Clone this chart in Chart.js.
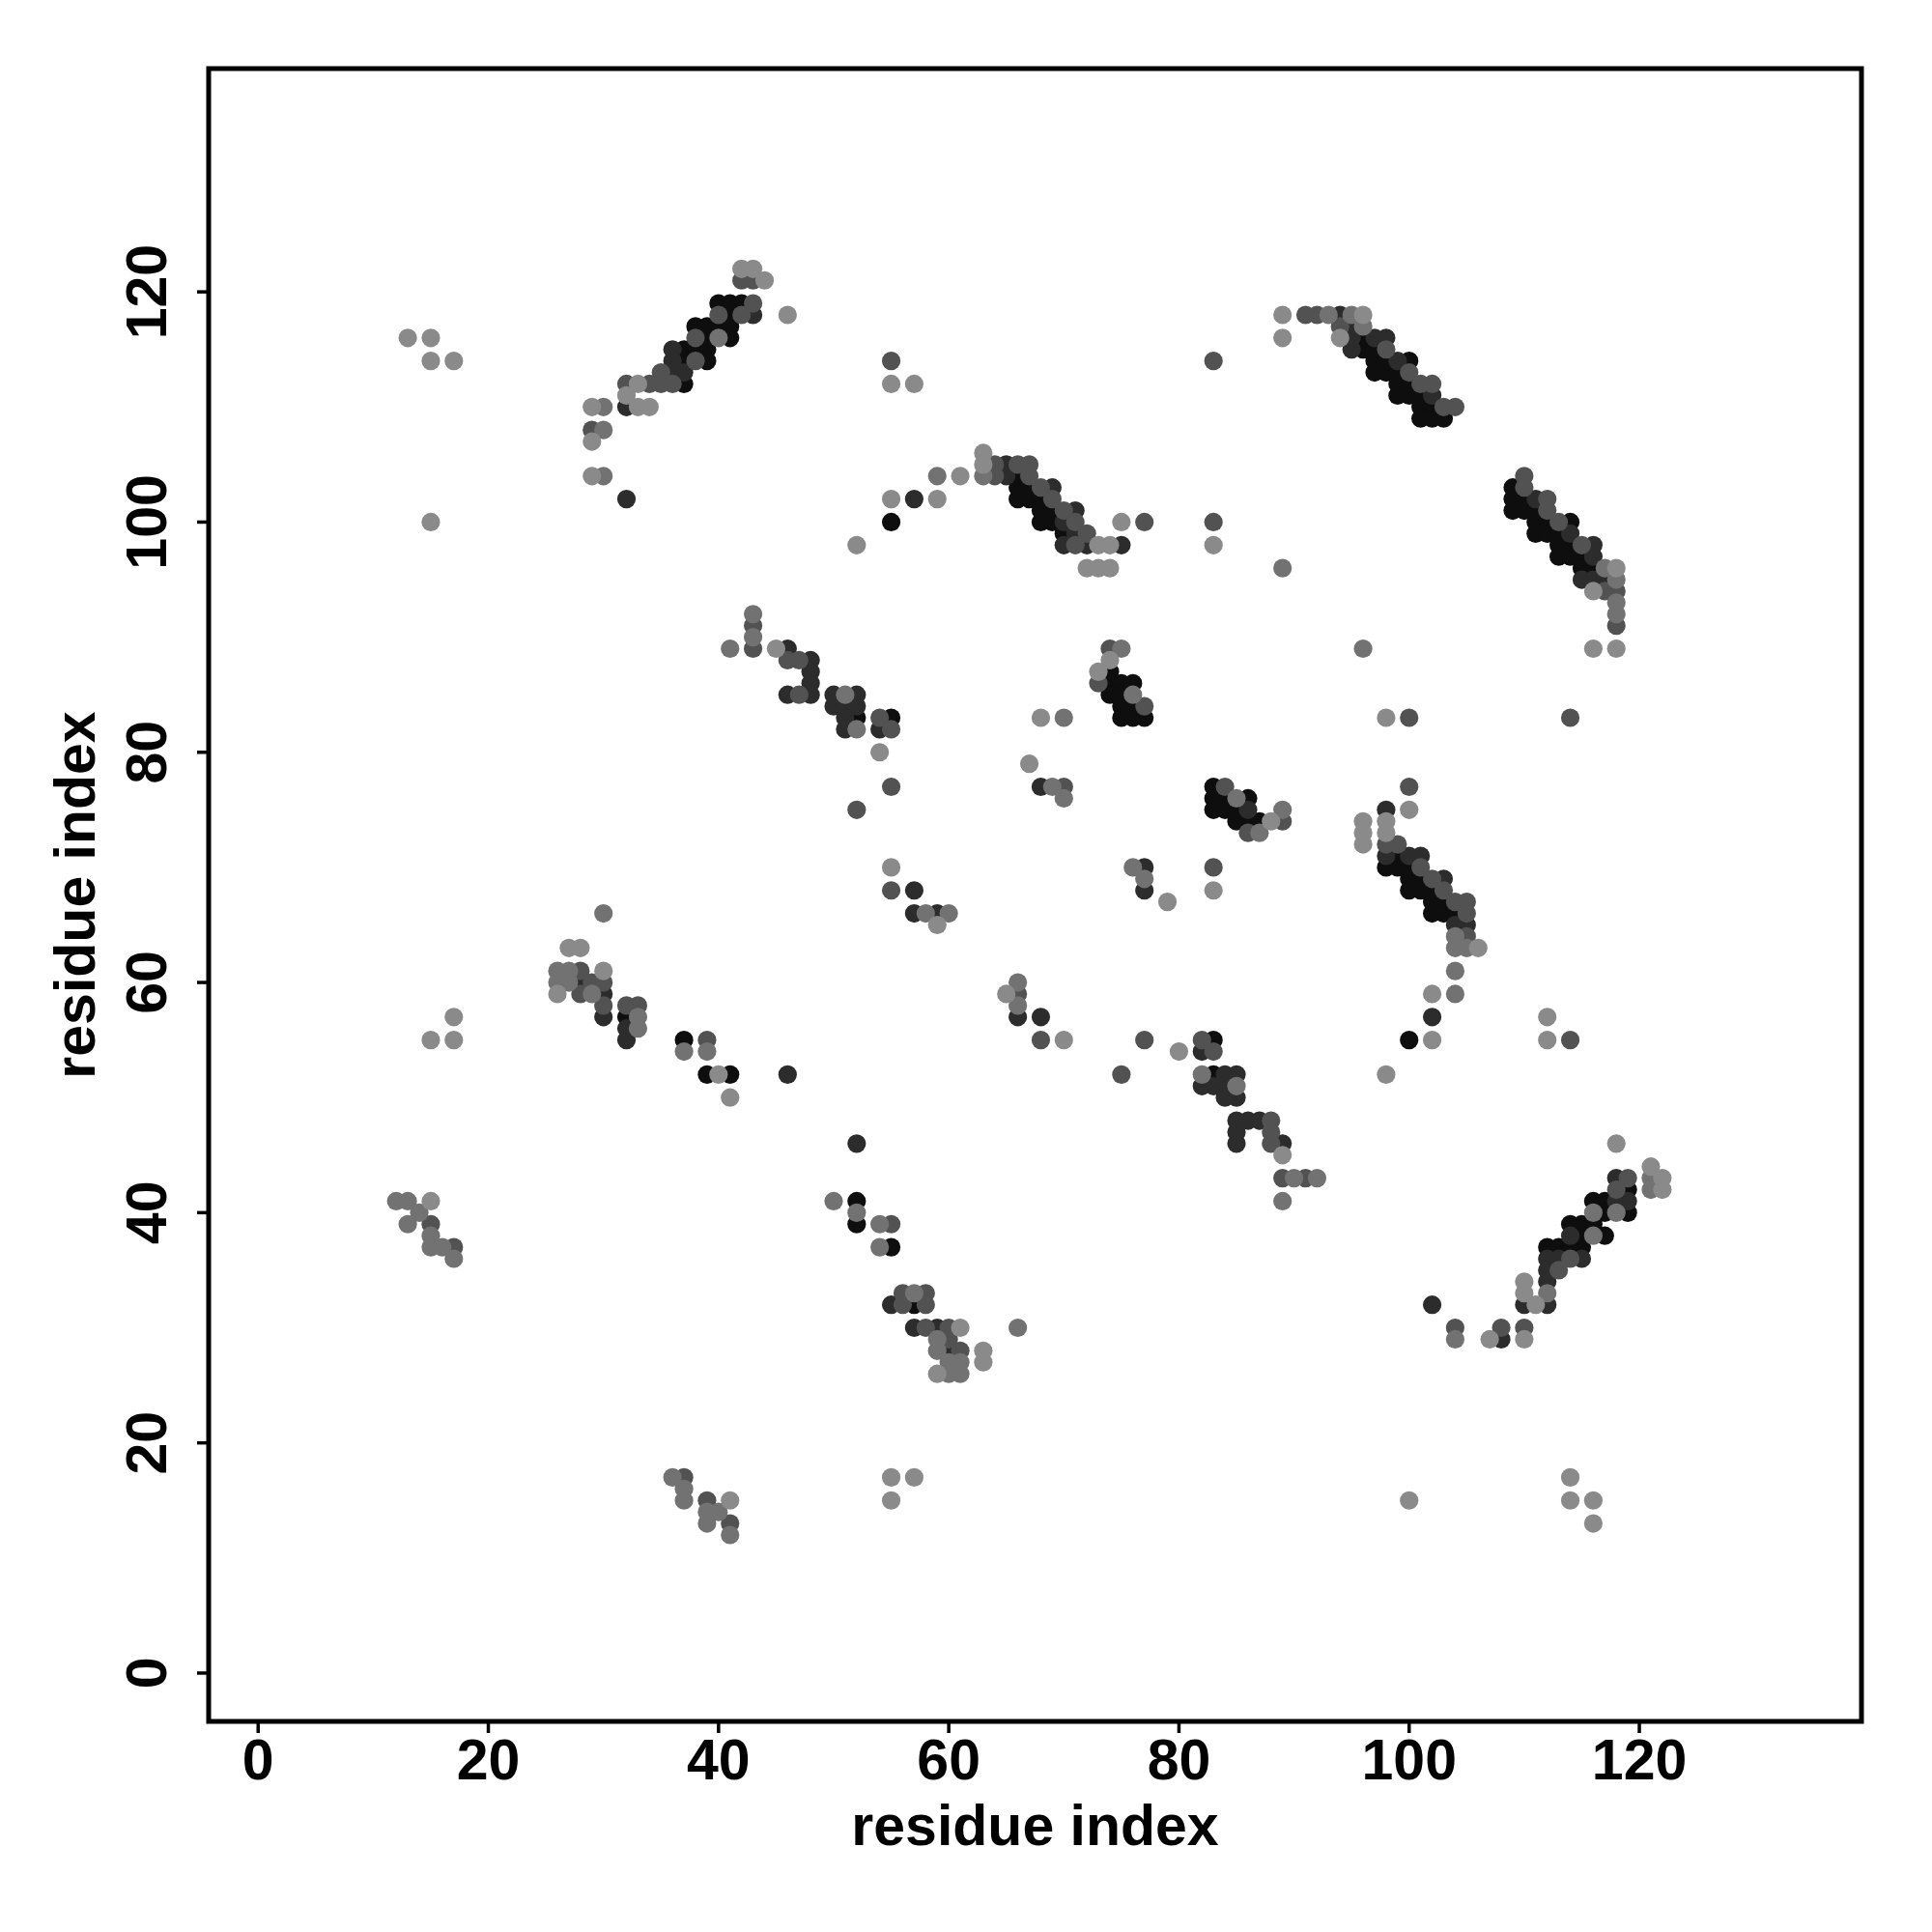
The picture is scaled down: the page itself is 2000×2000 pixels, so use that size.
<!DOCTYPE html>
<html>
<head>
<meta charset="utf-8">
<script src="https://cdn.jsdelivr.net/npm/chart.js@4/dist/chart.umd.min.js"></script>
<style>
  html, body { margin: 0; padding: 0; background: #fff; }
  #wrap { width: 2000px; height: 2000px; }
</style>
</head>
<body>
<div id="wrap"><canvas id="contactMap" width="2000" height="2000"></canvas></div>
<script>
// contact pairs [i, j], grouped by predicted strength (lightest first)
const lightPairs = [
  [13,116],[15,116],[15,114],[17,114],[15,100],[42,122],[43,122],[44,121],[46,118],[33,112],[32,111],[29,110],[33,110],[34,110],[29,107],[29,104],
  [55,112],[57,112],[63,106],[63,105],[61,104],[55,102],[59,102],[75,100],[52,98],[73,98],[74,98],[83,98],[72,96],[73,96],[74,96],
  [89,118],[96,118],[89,116],[94,116],[116,89],[118,89],[118,96],[116,94],
  [45,89],[54,80],
  [27,63],[28,63],[30,61],[26,59],[17,57],[15,55],[17,55],[40,52],[41,50],
  [55,70],[59,65],[68,83],[67,79],[74,88],[73,87],[65,59],[70,55],[80,54],[83,68],[79,67],
  [88,74],
  [98,83],[100,75],[96,74],[98,74],[96,73],[98,73],[96,72],[106,63],[102,59],[102,55],[112,55],[112,57],[98,52],
  [89,45],[15,41],[41,15],
  [61,30],[63,28],[63,27],[59,26],[55,17],[57,17],[55,15],
  [118,46],[121,44],[122,43],[122,42],[110,34],[110,33],[111,32],[107,29],[110,29],[100,15],[114,17],[114,15],[116,15],[116,13]
];
const grayPairs = [
  [40,116],[30,110],[30,108],[30,104],
  [59,104],[63,104],
  [93,118],[95,118],[96,117],[117,96],[118,95],[118,93],[118,92],[89,96],[96,89],
  [43,92],[43,90],[41,89],[51,85],[52,82],
  [30,66],[26,61],[27,61],[26,60],[27,60],[29,59],[33,57],[33,56],[37,54],[39,54],
  [58,66],[60,66],[70,83],[69,77],[70,76],[75,89],[76,85],[66,60],[66,58],[76,70],[77,69],
  [85,76],[89,75],[87,73],
  [104,64],[104,63],[105,63],[104,61],[104,59],
  [82,52],[85,51],[90,43],[92,43],[89,41],
  [12,41],[13,41],[14,40],[13,39],[15,38],[15,37],[16,37],[17,36],
  [36,17],[37,16],[37,15],[40,14],[39,14],[39,13],[41,12],
  [50,41],[52,40],[54,39],[54,37],[57,33],[66,30],[59,29],[59,28],[60,27],[61,27],[60,26],[61,26],
  [121,43],[121,42],[116,40],[118,40],[116,38],[112,33],[104,29]
];
const midPairs = [
  [42,121],[43,121],[43,119],[40,118],[42,118],[38,116],[38,114],[35,113],[32,112],[34,112],[35,112],[36,112],[29,108],
  [55,114],[83,114],[64,105],[66,105],[67,105],[64,104],[67,104],[68,103],[69,102],[70,101],[71,100],[77,100],[83,100],[72,99],[71,98],
  [91,118],[92,118],[94,117],[98,115],[100,113],[101,112],[102,112],[103,110],[104,110],
  [110,104],[110,103],[112,102],[112,101],[113,100],[115,98],[117,94],[118,94],[118,91],
  [43,91],[43,89],[46,88],[47,88],[47,85],[54,83],[55,82],
  [28,61],[29,60],[30,60],[28,59],[30,58],[32,58],[33,58],[39,55],
  [55,77],[52,75],[55,68],[70,77],[77,84],[66,59],[68,55],[77,55],[75,52],[83,70],[84,77],[89,74],[86,73],[74,89],[73,86],
  [100,83],[114,83],[100,77],[98,72],[99,72],[101,70],[102,69],[103,68],[104,67],[105,67],[105,66],[105,64],[114,55],
  [82,55],[83,54],[88,48],[88,47],[88,46],[89,43],[91,43],
  [15,39],[17,37],[37,17],[39,15],[41,13],
  [55,39],[56,33],[58,33],[56,32],[58,32],[58,30],[60,30],[60,29],[61,28],
  [119,43],[118,42],[114,36],[113,35],[104,30],[108,30],[110,30]
];
const darkPairs = [
  [43,118],[36,115],[36,114],[36,113],[37,113],[32,110],[32,102],
  [65,105],[65,104],[69,103],[57,102],[71,101],[70,100],[71,99],[70,98],[72,98],[75,98],
  [94,118],[95,117],[95,116],[97,116],[98,116],[95,115],[99,114],[102,111],
  [111,102],[114,99],[116,98],[116,97],[115,95],[116,95],[117,95],
  [46,89],[48,88],[48,87],[48,86],[46,85],[48,85],[50,85],[52,85],[50,84],[51,84],[52,84],[51,83],[51,82],[54,82],
  [28,60],[30,59],[30,57],[32,56],[32,55],[46,52],
  [57,68],[57,66],[59,66],[68,77],[66,57],[68,57],[77,70],[77,68],
  [86,75],
  [98,75],[98,71],[100,71],[101,71],[103,69],[104,65],[105,65],[102,57],
  [82,54],[84,52],[85,52],[82,51],[83,51],[84,51],[84,50],[85,50],[85,48],[86,48],[87,48],[85,47],[85,46],[89,46],
  [52,46],[55,32],[57,30],[59,30],[60,28],
  [118,43],[118,41],[119,41],[114,38],[112,36],[113,36],[115,36],[112,35],[112,34],[110,32],[112,32],[102,32],[108,29]
];
const strongPairs = [
  [40,119],[41,119],[42,119],[41,118],[38,117],[39,117],[40,117],[41,117],[39,116],[41,116],[37,115],[38,115],[39,115],[37,114],[39,114],[37,112],
  [66,104],[66,103],[67,103],[66,102],[67,102],[68,102],[68,101],[69,101],[55,100],[68,100],[69,100],[70,99],
  [96,116],[96,115],[97,115],[97,114],[98,114],[100,114],[97,113],[98,113],[99,113],[99,112],[100,112],[99,111],[100,111],[101,111],[101,110],[102,110],[101,109],[102,109],[103,109],
  [109,103],[109,102],[110,102],[109,101],[110,101],[111,101],[111,100],[112,100],[114,100],[111,99],[112,99],[113,99],[113,98],[114,98],[113,97],[114,97],[115,97],[115,96],[116,96],
  [52,83],[55,83],
  [32,57],[37,55],[39,52],[41,52],
  [74,87],[74,86],[75,86],[76,86],[74,85],[75,85],[75,84],[76,84],[75,83],[76,83],[77,83],
  [83,77],[83,76],[84,76],[86,76],[83,75],[84,75],[85,75],[85,74],[86,74],[87,74],
  [99,71],[98,70],[99,70],[100,70],[100,69],[101,69],[100,68],[101,68],[102,68],[102,67],[103,67],[102,66],[103,66],[104,66],[100,55],
  [83,55],[83,52],
  [52,41],[52,39],[55,37],[57,32],
  [119,42],[116,41],[117,41],[117,40],[119,40],[114,39],[115,39],[116,39],[115,38],[117,38],[112,37],[113,37],[114,37],[115,37]
];
const tickValues = [0, 20, 40, 60, 80, 100, 120];
const axisLabel = 'residue index';

const shades = ['#8a8a8a', '#727272', '#525252', '#2c2c2c', '#0e0e0e'];
const groups = [lightPairs, grayPairs, midPairs, darkPairs, strongPairs];
const FONT = '"Liberation Sans", Arial, sans-serif';

// frame, ticks and labels drawn R-style
const rAxes = {
  id: 'rAxes',
  beforeDraw(chart) {
    const ctx = chart.ctx;
    ctx.save();
    ctx.fillStyle = '#fff';
    ctx.fillRect(0, 0, chart.width, chart.height);
    ctx.restore();
  },
  afterDraw(chart) {
    const ctx = chart.ctx;
    const a = chart.chartArea;
    const xs = chart.scales.x, ys = chart.scales.y;
    ctx.save();
    ctx.strokeStyle = '#000';
    ctx.lineWidth = 5;
    ctx.strokeRect(a.left, a.top, a.right - a.left, a.bottom - a.top);

    ctx.lineWidth = 3.5;
    ctx.fillStyle = '#000';
    ctx.font = 'bold 59px ' + FONT;
    tickValues.forEach(v => {
      const px = xs.getPixelForValue(v);
      ctx.beginPath();
      ctx.moveTo(px, a.bottom);
      ctx.lineTo(px, a.bottom + 12);
      ctx.stroke();
      ctx.textAlign = 'center';
      ctx.textBaseline = 'alphabetic';
      ctx.fillText(String(v), px, 1842);

      const py = ys.getPixelForValue(v);
      ctx.beginPath();
      ctx.moveTo(a.left, py);
      ctx.lineTo(a.left - 12, py);
      ctx.stroke();
      ctx.save();
      ctx.translate(172, py);
      ctx.rotate(-Math.PI / 2);
      ctx.fillText(String(v), 0, 0);
      ctx.restore();
    });

    ctx.font = 'bold 59px ' + FONT;
    ctx.textAlign = 'center';
    ctx.fillText(axisLabel, (a.left + a.right) / 2, 1910);
    ctx.save();
    ctx.translate(98, (a.top + a.bottom) / 2);
    ctx.rotate(-Math.PI / 2);
    ctx.fillText(axisLabel, 0, 0);
    ctx.restore();
    ctx.restore();
  }
};

new Chart(document.getElementById('contactMap'), {
  type: 'scatter',
  data: {
    datasets: groups.map((pairs, k) => ({
      data: pairs.map(p => ({ x: p[0], y: p[1] })),
      backgroundColor: shades[k],
      pointRadius: 9.6,
      pointHoverRadius: 9.6,
      borderWidth: 0,
      order: k
    }))
  },
  options: {
    responsive: false,
    animation: false,
    devicePixelRatio: 1,
    layout: { padding: { left: 216, top: 71, right: 73, bottom: 218 } },
    plugins: { legend: { display: false }, tooltip: { enabled: false } },
    scales: {
      x: { type: 'linear', min: -4.3, max: 139.3, display: false },
      y: { type: 'linear', min: -4.2, max: 139.4, display: false }
    }
  },
  plugins: [rAxes]
});
</script>
</body>
</html>
